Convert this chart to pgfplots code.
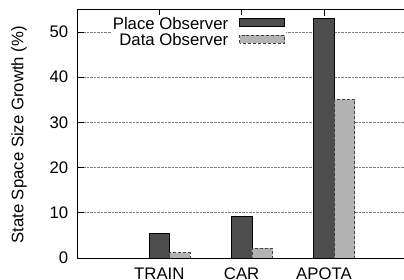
\documentclass[border=0pt]{standalone}
\usepackage{fontspec}
\setmainfont{Liberation Sans}
\usepackage{pgfplots}
\pgfplotsset{compat=1.18}
\definecolor{darkbar}{HTML}{4D4D4D}
\definecolor{lightbar}{HTML}{B3B3B3}
\begin{document}
\fontsize{16.8}{19}\selectfont
\begin{tikzpicture}
\useasboundingbox (0,0) rectangle (404bp,280bp);
\clip (0,0) rectangle (404bp,280bp);
\begin{axis}[
  scale only axis,
  width=329.3bp, height=248.7bp,
  at={(77bp,22bp)}, anchor=south west,
  xmin=0, xmax=4, ymin=0, ymax=55,
  axis x line=box, axis y line=left,
  axis line style={line width=0.9bp, -},
  xtick={1,2,3}, xticklabels={TRAIN,CAR,APOTA},
  ytick={0,10,20,30,40,50},
  tick align=inside, major tick length=7bp,
  tick style={black, line width=0.6bp},
  xtick pos=both,
  ymajorgrids,
  major grid style={densely dotted, gray, line width=0.6bp},
  /pgf/number format/assume math mode=true,
  xticklabel style={yshift=-4.5bp},
  yticklabel style={xshift=-3bp},
  ylabel={State Space Size Growth (\%)},
  ylabel style={at={(axis description cs:-0.176,0.495)}, anchor=center},
  legend plot pos=right,
  legend cell align=right,
  legend style={draw=none, fill=white, at={(axis description cs:0.635,0.978)}, anchor=north east,
    inner sep=1bp, row sep=0bp, nodes={inner sep=1bp}},
]
\addplot[ybar, bar width=0.25, bar shift=0pt, fill=darkbar, draw=black, line width=0.7bp,
  legend image code/.code={\path (0bp,0bp); \draw[fill=darkbar, draw=black, line width=0.7bp] (10bp,-2bp) rectangle (55bp,6bp);}]
  coordinates {(1,5.5) (2,9.2) (3,52.9)};
\addlegendentry{Place Observer}
\addplot[ybar, bar width=0.25, bar shift=0pt, fill=lightbar, draw=black!75, densely dashed, line width=0.7bp,
  legend image code/.code={\path (0bp,0bp); \draw[fill=lightbar, draw=black!75, densely dashed, line width=0.7bp] (10bp,-2bp) rectangle (55bp,6bp);}]
  coordinates {(1.25,1.2) (2.25,2.2) (3.25,35.1)};
\addlegendentry{Data Observer}
\end{axis}
\end{tikzpicture}
\end{document}
